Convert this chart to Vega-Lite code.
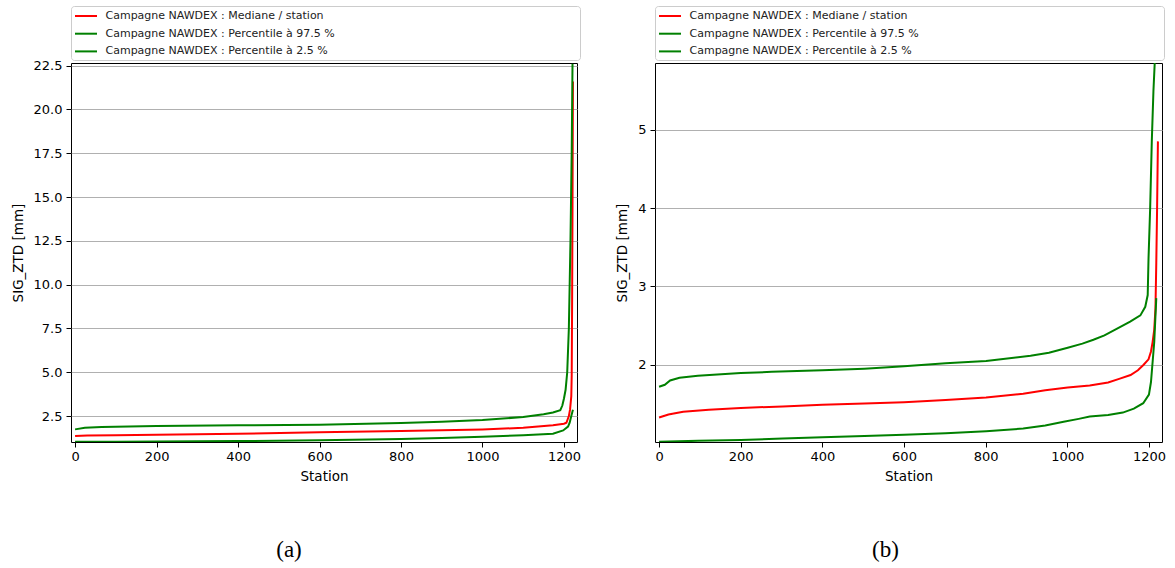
{
  "$schema": "https://vega.github.io/schema/vega-lite/v6.json",
  "background": "white",
  "padding": {"left": 10, "top": 5, "right": 5, "bottom": 0},
  "spacing": 33,
  "datasets": {
    "a": [
      {"station": 0, "value": 1.36, "series": "Campagne NAWDEX : Mediane / station"},
      {"station": 30, "value": 1.39, "series": "Campagne NAWDEX : Mediane / station"},
      {"station": 100, "value": 1.41, "series": "Campagne NAWDEX : Mediane / station"},
      {"station": 200, "value": 1.43, "series": "Campagne NAWDEX : Mediane / station"},
      {"station": 400, "value": 1.49, "series": "Campagne NAWDEX : Mediane / station"},
      {"station": 600, "value": 1.57, "series": "Campagne NAWDEX : Mediane / station"},
      {"station": 800, "value": 1.65, "series": "Campagne NAWDEX : Mediane / station"},
      {"station": 1000, "value": 1.74, "series": "Campagne NAWDEX : Mediane / station"},
      {"station": 1100, "value": 1.83, "series": "Campagne NAWDEX : Mediane / station"},
      {"station": 1173, "value": 1.97, "series": "Campagne NAWDEX : Mediane / station"},
      {"station": 1200, "value": 2.06, "series": "Campagne NAWDEX : Mediane / station"},
      {"station": 1206, "value": 2.12, "series": "Campagne NAWDEX : Mediane / station"},
      {"station": 1212, "value": 2.5, "series": "Campagne NAWDEX : Mediane / station"},
      {"station": 1215, "value": 2.88, "series": "Campagne NAWDEX : Mediane / station"},
      {"station": 1218, "value": 3.64, "series": "Campagne NAWDEX : Mediane / station"},
      {"station": 1219, "value": 4.8, "series": "Campagne NAWDEX : Mediane / station"},
      {"station": 1220, "value": 9.0, "series": "Campagne NAWDEX : Mediane / station"},
      {"station": 1221, "value": 14.5, "series": "Campagne NAWDEX : Mediane / station"},
      {"station": 1222, "value": 21.6, "series": "Campagne NAWDEX : Mediane / station"},
      {"station": 0, "value": 1.74, "series": "Campagne NAWDEX : Percentile à 97.5 %"},
      {"station": 24, "value": 1.83, "series": "Campagne NAWDEX : Percentile à 97.5 %"},
      {"station": 65, "value": 1.87, "series": "Campagne NAWDEX : Percentile à 97.5 %"},
      {"station": 200, "value": 1.93, "series": "Campagne NAWDEX : Percentile à 97.5 %"},
      {"station": 400, "value": 1.97, "series": "Campagne NAWDEX : Percentile à 97.5 %"},
      {"station": 600, "value": 2.01, "series": "Campagne NAWDEX : Percentile à 97.5 %"},
      {"station": 800, "value": 2.11, "series": "Campagne NAWDEX : Percentile à 97.5 %"},
      {"station": 900, "value": 2.17, "series": "Campagne NAWDEX : Percentile à 97.5 %"},
      {"station": 1000, "value": 2.27, "series": "Campagne NAWDEX : Percentile à 97.5 %"},
      {"station": 1100, "value": 2.45, "series": "Campagne NAWDEX : Percentile à 97.5 %"},
      {"station": 1150, "value": 2.6, "series": "Campagne NAWDEX : Percentile à 97.5 %"},
      {"station": 1173, "value": 2.7, "series": "Campagne NAWDEX : Percentile à 97.5 %"},
      {"station": 1191, "value": 2.84, "series": "Campagne NAWDEX : Percentile à 97.5 %"},
      {"station": 1196, "value": 3.1, "series": "Campagne NAWDEX : Percentile à 97.5 %"},
      {"station": 1200, "value": 3.5, "series": "Campagne NAWDEX : Percentile à 97.5 %"},
      {"station": 1204, "value": 4.0, "series": "Campagne NAWDEX : Percentile à 97.5 %"},
      {"station": 1208, "value": 5.0, "series": "Campagne NAWDEX : Percentile à 97.5 %"},
      {"station": 1212, "value": 7.5, "series": "Campagne NAWDEX : Percentile à 97.5 %"},
      {"station": 1216, "value": 12.5, "series": "Campagne NAWDEX : Percentile à 97.5 %"},
      {"station": 1219, "value": 17.6, "series": "Campagne NAWDEX : Percentile à 97.5 %"},
      {"station": 1221, "value": 22.6, "series": "Campagne NAWDEX : Percentile à 97.5 %"},
      {"station": 0, "value": 1.03, "series": "Campagne NAWDEX : Percentile à 2.5 %"},
      {"station": 100, "value": 1.04, "series": "Campagne NAWDEX : Percentile à 2.5 %"},
      {"station": 200, "value": 1.05, "series": "Campagne NAWDEX : Percentile à 2.5 %"},
      {"station": 400, "value": 1.07, "series": "Campagne NAWDEX : Percentile à 2.5 %"},
      {"station": 600, "value": 1.12, "series": "Campagne NAWDEX : Percentile à 2.5 %"},
      {"station": 800, "value": 1.19, "series": "Campagne NAWDEX : Percentile à 2.5 %"},
      {"station": 900, "value": 1.25, "series": "Campagne NAWDEX : Percentile à 2.5 %"},
      {"station": 1000, "value": 1.32, "series": "Campagne NAWDEX : Percentile à 2.5 %"},
      {"station": 1100, "value": 1.4, "series": "Campagne NAWDEX : Percentile à 2.5 %"},
      {"station": 1173, "value": 1.49, "series": "Campagne NAWDEX : Percentile à 2.5 %"},
      {"station": 1198, "value": 1.68, "series": "Campagne NAWDEX : Percentile à 2.5 %"},
      {"station": 1210, "value": 1.9, "series": "Campagne NAWDEX : Percentile à 2.5 %"},
      {"station": 1214, "value": 2.12, "series": "Campagne NAWDEX : Percentile à 2.5 %"},
      {"station": 1218, "value": 2.5, "series": "Campagne NAWDEX : Percentile à 2.5 %"},
      {"station": 1222, "value": 2.86, "series": "Campagne NAWDEX : Percentile à 2.5 %"}
    ],
    "b": [
      {"station": 0, "value": 1.327, "series": "Campagne NAWDEX : Mediane / station"},
      {"station": 23, "value": 1.366, "series": "Campagne NAWDEX : Mediane / station"},
      {"station": 59, "value": 1.4, "series": "Campagne NAWDEX : Mediane / station"},
      {"station": 122, "value": 1.425, "series": "Campagne NAWDEX : Mediane / station"},
      {"station": 200, "value": 1.45, "series": "Campagne NAWDEX : Mediane / station"},
      {"station": 303, "value": 1.468, "series": "Campagne NAWDEX : Mediane / station"},
      {"station": 400, "value": 1.49, "series": "Campagne NAWDEX : Mediane / station"},
      {"station": 503, "value": 1.506, "series": "Campagne NAWDEX : Mediane / station"},
      {"station": 600, "value": 1.523, "series": "Campagne NAWDEX : Mediane / station"},
      {"station": 702, "value": 1.55, "series": "Campagne NAWDEX : Mediane / station"},
      {"station": 801, "value": 1.583, "series": "Campagne NAWDEX : Mediane / station"},
      {"station": 892, "value": 1.63, "series": "Campagne NAWDEX : Mediane / station"},
      {"station": 946, "value": 1.676, "series": "Campagne NAWDEX : Mediane / station"},
      {"station": 1001, "value": 1.71, "series": "Campagne NAWDEX : Mediane / station"},
      {"station": 1055, "value": 1.736, "series": "Campagne NAWDEX : Mediane / station"},
      {"station": 1100, "value": 1.774, "series": "Campagne NAWDEX : Mediane / station"},
      {"station": 1127, "value": 1.82, "series": "Campagne NAWDEX : Mediane / station"},
      {"station": 1155, "value": 1.87, "series": "Campagne NAWDEX : Mediane / station"},
      {"station": 1173, "value": 1.93, "series": "Campagne NAWDEX : Mediane / station"},
      {"station": 1187, "value": 2.0, "series": "Campagne NAWDEX : Mediane / station"},
      {"station": 1199, "value": 2.07, "series": "Campagne NAWDEX : Mediane / station"},
      {"station": 1205, "value": 2.17, "series": "Campagne NAWDEX : Mediane / station"},
      {"station": 1209, "value": 2.29, "series": "Campagne NAWDEX : Mediane / station"},
      {"station": 1213, "value": 2.45, "series": "Campagne NAWDEX : Mediane / station"},
      {"station": 1216, "value": 2.72, "series": "Campagne NAWDEX : Mediane / station"},
      {"station": 1218, "value": 3.3, "series": "Campagne NAWDEX : Mediane / station"},
      {"station": 1220, "value": 4.0, "series": "Campagne NAWDEX : Mediane / station"},
      {"station": 1222, "value": 4.85, "series": "Campagne NAWDEX : Mediane / station"},
      {"station": 0, "value": 1.72, "series": "Campagne NAWDEX : Percentile à 97.5 %"},
      {"station": 14, "value": 1.745, "series": "Campagne NAWDEX : Percentile à 97.5 %"},
      {"station": 27, "value": 1.8, "series": "Campagne NAWDEX : Percentile à 97.5 %"},
      {"station": 50, "value": 1.834, "series": "Campagne NAWDEX : Percentile à 97.5 %"},
      {"station": 95, "value": 1.86, "series": "Campagne NAWDEX : Percentile à 97.5 %"},
      {"station": 200, "value": 1.894, "series": "Campagne NAWDEX : Percentile à 97.5 %"},
      {"station": 276, "value": 1.91, "series": "Campagne NAWDEX : Percentile à 97.5 %"},
      {"station": 400, "value": 1.93, "series": "Campagne NAWDEX : Percentile à 97.5 %"},
      {"station": 503, "value": 1.95, "series": "Campagne NAWDEX : Percentile à 97.5 %"},
      {"station": 600, "value": 1.98, "series": "Campagne NAWDEX : Percentile à 97.5 %"},
      {"station": 702, "value": 2.02, "series": "Campagne NAWDEX : Percentile à 97.5 %"},
      {"station": 801, "value": 2.047, "series": "Campagne NAWDEX : Percentile à 97.5 %"},
      {"station": 910, "value": 2.115, "series": "Campagne NAWDEX : Percentile à 97.5 %"},
      {"station": 955, "value": 2.153, "series": "Campagne NAWDEX : Percentile à 97.5 %"},
      {"station": 1001, "value": 2.217, "series": "Campagne NAWDEX : Percentile à 97.5 %"},
      {"station": 1037, "value": 2.27, "series": "Campagne NAWDEX : Percentile à 97.5 %"},
      {"station": 1064, "value": 2.32, "series": "Campagne NAWDEX : Percentile à 97.5 %"},
      {"station": 1091, "value": 2.375, "series": "Campagne NAWDEX : Percentile à 97.5 %"},
      {"station": 1122, "value": 2.46, "series": "Campagne NAWDEX : Percentile à 97.5 %"},
      {"station": 1154, "value": 2.55, "series": "Campagne NAWDEX : Percentile à 97.5 %"},
      {"station": 1179, "value": 2.63, "series": "Campagne NAWDEX : Percentile à 97.5 %"},
      {"station": 1191, "value": 2.74, "series": "Campagne NAWDEX : Percentile à 97.5 %"},
      {"station": 1197, "value": 2.89, "series": "Campagne NAWDEX : Percentile à 97.5 %"},
      {"station": 1199, "value": 3.36, "series": "Campagne NAWDEX : Percentile à 97.5 %"},
      {"station": 1203, "value": 4.0, "series": "Campagne NAWDEX : Percentile à 97.5 %"},
      {"station": 1207, "value": 4.85, "series": "Campagne NAWDEX : Percentile à 97.5 %"},
      {"station": 1211, "value": 5.49, "series": "Campagne NAWDEX : Percentile à 97.5 %"},
      {"station": 1214, "value": 5.83, "series": "Campagne NAWDEX : Percentile à 97.5 %"},
      {"station": 1215, "value": 6.2, "series": "Campagne NAWDEX : Percentile à 97.5 %"},
      {"station": 0, "value": 1.017, "series": "Campagne NAWDEX : Percentile à 2.5 %"},
      {"station": 95, "value": 1.03, "series": "Campagne NAWDEX : Percentile à 2.5 %"},
      {"station": 200, "value": 1.04, "series": "Campagne NAWDEX : Percentile à 2.5 %"},
      {"station": 303, "value": 1.06, "series": "Campagne NAWDEX : Percentile à 2.5 %"},
      {"station": 400, "value": 1.076, "series": "Campagne NAWDEX : Percentile à 2.5 %"},
      {"station": 503, "value": 1.093, "series": "Campagne NAWDEX : Percentile à 2.5 %"},
      {"station": 600, "value": 1.106, "series": "Campagne NAWDEX : Percentile à 2.5 %"},
      {"station": 702, "value": 1.127, "series": "Campagne NAWDEX : Percentile à 2.5 %"},
      {"station": 801, "value": 1.153, "series": "Campagne NAWDEX : Percentile à 2.5 %"},
      {"station": 892, "value": 1.187, "series": "Campagne NAWDEX : Percentile à 2.5 %"},
      {"station": 946, "value": 1.225, "series": "Campagne NAWDEX : Percentile à 2.5 %"},
      {"station": 991, "value": 1.272, "series": "Campagne NAWDEX : Percentile à 2.5 %"},
      {"station": 1028, "value": 1.31, "series": "Campagne NAWDEX : Percentile à 2.5 %"},
      {"station": 1055, "value": 1.34, "series": "Campagne NAWDEX : Percentile à 2.5 %"},
      {"station": 1100, "value": 1.36, "series": "Campagne NAWDEX : Percentile à 2.5 %"},
      {"station": 1136, "value": 1.39, "series": "Campagne NAWDEX : Percentile à 2.5 %"},
      {"station": 1163, "value": 1.44, "series": "Campagne NAWDEX : Percentile à 2.5 %"},
      {"station": 1186, "value": 1.51, "series": "Campagne NAWDEX : Percentile à 2.5 %"},
      {"station": 1200, "value": 1.62, "series": "Campagne NAWDEX : Percentile à 2.5 %"},
      {"station": 1205, "value": 1.78, "series": "Campagne NAWDEX : Percentile à 2.5 %"},
      {"station": 1213, "value": 2.29, "series": "Campagne NAWDEX : Percentile à 2.5 %"},
      {"station": 1218, "value": 2.85, "series": "Campagne NAWDEX : Percentile à 2.5 %"}
    ]
  },
  "hconcat": [
    {
      "width": 506,
      "height": 379,
      "data": {"name": "a"},
      "title": {"text": "(a)", "orient": "bottom", "anchor": "middle", "font": "Liberation Serif", "fontSize": 23, "fontWeight": "normal", "color": "black", "offset": 56, "dx": -35},
      "mark": {"type": "line", "strokeWidth": 2, "clip": true},
      "encoding": {
        "x": {"field": "station", "type": "quantitative", "scale": {"domain": [-10, 1232], "nice": false, "zero": false}, "axis": {"title": "Station", "values": [0, 200, 400, 600, 800, 1000, 1200], "format": "d", "grid": false}},
        "y": {"field": "value", "type": "quantitative", "scale": {"domain": [1.02, 22.65], "nice": false, "zero": false}, "axis": {"title": "SIG_ZTD [mm]", "values": [2.5, 5, 7.5, 10, 12.5, 15, 17.5, 20, 22.5], "format": ".1f", "grid": true}},
        "color": {"field": "series", "type": "nominal",
          "scale": {"domain": ["Campagne NAWDEX : Mediane / station", "Campagne NAWDEX : Percentile à 97.5 %", "Campagne NAWDEX : Percentile à 2.5 %"], "range": ["#ff0000", "#008000", "#008000"]},
          "legend": {"orient": "none", "legendX": 0, "legendY": -57, "title": null, "labelExpr": "datum.label + '\u00a0\u00a0\u00a0\u00a0\u00a0\u00a0\u00a0\u00a0\u00a0\u00a0\u00a0\u00a0\u00a0\u00a0\u00a0\u00a0\u00a0\u00a0\u00a0\u00a0\u00a0\u00a0\u00a0\u00a0\u00a0\u00a0\u00a0\u00a0\u00a0\u00a0\u00a0\u00a0\u00a0\u00a0\u00a0\u00a0\u00a0\u00a0\u00a0\u00a0\u00a0\u00a0\u00a0\u00a0\u00a0\u00a0\u00a0\u00a0\u00a0\u00a0\u00a0\u00a0\u00a0\u00a0\u00a0\u00a0\u00a0\u00a0\u00a0\u00a0\u00a0\u00a0\u00a0\u00a0\u00a0\u00a0\u00a0\u00a0\u00a0\u200b'"}}
      }
    },
    {
      "width": 507,
      "height": 379,
      "data": {"name": "b"},
      "title": {"text": "(b)", "orient": "bottom", "anchor": "middle", "font": "Liberation Serif", "fontSize": 23, "fontWeight": "normal", "color": "black", "offset": 56, "dx": -23},
      "mark": {"type": "line", "strokeWidth": 2, "clip": true},
      "encoding": {
        "x": {"field": "station", "type": "quantitative", "scale": {"domain": [-10, 1232], "nice": false, "zero": false}, "axis": {"title": "Station", "values": [0, 200, 400, 600, 800, 1000, 1200], "format": "d", "grid": false}},
        "y": {"field": "value", "type": "quantitative", "scale": {"domain": [1.015, 5.85], "nice": false, "zero": false}, "axis": {"title": "SIG_ZTD [mm]", "values": [2, 3, 4, 5], "format": "d", "grid": true}},
        "color": {"field": "series", "type": "nominal",
          "scale": {"domain": ["Campagne NAWDEX : Mediane / station", "Campagne NAWDEX : Percentile à 97.5 %", "Campagne NAWDEX : Percentile à 2.5 %"], "range": ["#ff0000", "#008000", "#008000"]},
          "legend": {"orient": "none", "legendX": 0, "legendY": -57, "title": null, "labelExpr": "datum.label + '\u00a0\u00a0\u00a0\u00a0\u00a0\u00a0\u00a0\u00a0\u00a0\u00a0\u00a0\u00a0\u00a0\u00a0\u00a0\u00a0\u00a0\u00a0\u00a0\u00a0\u00a0\u00a0\u00a0\u00a0\u00a0\u00a0\u00a0\u00a0\u00a0\u00a0\u00a0\u00a0\u00a0\u00a0\u00a0\u00a0\u00a0\u00a0\u00a0\u00a0\u00a0\u00a0\u00a0\u00a0\u00a0\u00a0\u00a0\u00a0\u00a0\u00a0\u00a0\u00a0\u00a0\u00a0\u00a0\u00a0\u00a0\u00a0\u00a0\u00a0\u00a0\u00a0\u00a0\u00a0\u00a0\u00a0\u00a0\u00a0\u00a0\u200b'"}}
      }
    }
  ],
  "resolve": {"legend": {"color": "independent"}, "scale": {"color": "independent"}},
  "config": {
    "font": "DejaVu Sans",
    "view": {"stroke": "black", "strokeWidth": 1},
    "axis": {"labelFont": "DejaVu Sans", "labelFontSize": 13, "labelColor": "black", "titleFont": "DejaVu Sans", "titleFontSize": 13.5, "titleFontWeight": "normal", "titleColor": "black", "tickColor": "black", "tickSize": 5, "tickWidth": 1, "domain": false, "gridColor": "#b0b0b0", "gridWidth": 1, "labelPadding": 4, "titlePadding": 8},
    "axisX": {"titlePadding": 6, "labelPadding": 3},
    "legend": {"fillColor": "white", "strokeColor": "#cccccc", "cornerRadius": 3, "padding": 3.5, "rowPadding": 5.7, "labelFont": "DejaVu Sans", "labelFontSize": 11, "labelColor": "#222222", "labelLimit": 800, "labelOffset": 13, "symbolType": "M-2,0H2", "symbolSize": 121, "symbolStrokeWidth": 2, "symbolOffset": 5}
  }
}
